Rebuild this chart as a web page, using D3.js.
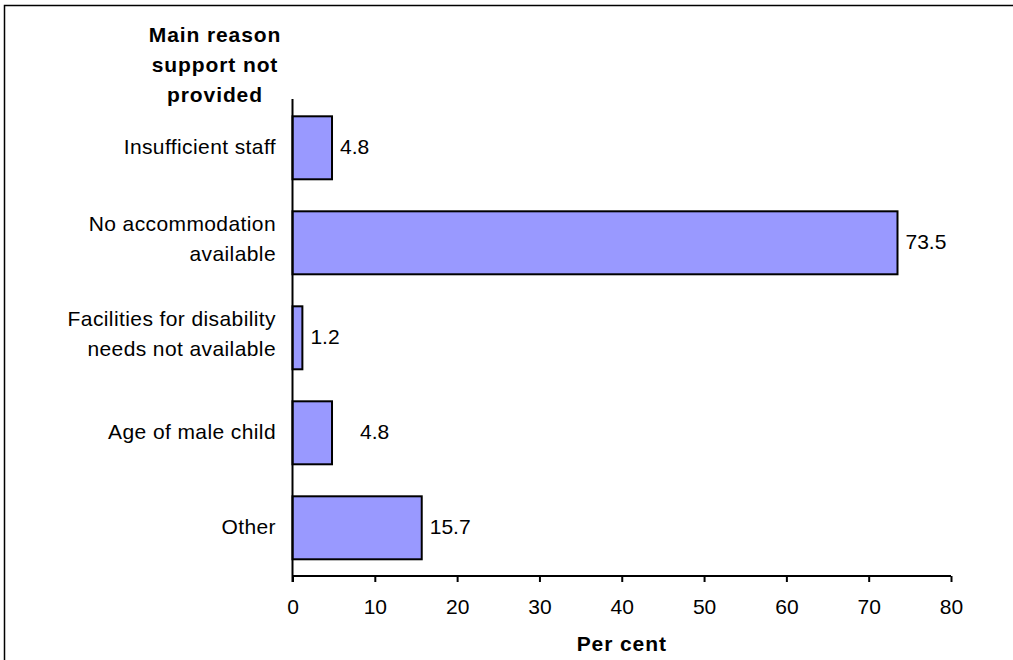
<!DOCTYPE html>
<html>
<head>
<meta charset="utf-8">
<script src="https://cdn.jsdelivr.net/npm/d3@7"></script>
<style>
  html, body { margin: 0; padding: 0; background: #ffffff; }
  svg { display: block; font-family: "Liberation Sans", Arial, sans-serif; }
</style>
</head>
<body>
<svg id="chart" width="1013" height="660"></svg>
<script>
const categories = [
  ["Insufficient staff"],
  ["No accommodation", "available"],
  ["Facilities for disability", "needs not available"],
  ["Age of male child"],
  ["Other"]
];
const values = [4.8, 73.5, 1.2, 4.8, 15.7];
const valueLabels = ["4.8", "73.5", "1.2", "4.8", "15.7"];
const xTicks = [0, 10, 20, 30, 40, 50, 60, 70, 80];
const yTitle = ["Main reason", "support not", "provided"];
const xTitle = "Per cent";

const svg = d3.select("#chart");

// outer frame
svg.append("rect")
  .attr("x", 4.5).attr("y", 5.5)
  .attr("width", 1100).attr("height", 700)
  .attr("fill", "none").attr("stroke", "#000").attr("stroke-width", 1.5);

const x = d3.scaleLinear().domain([0, 80]).range([292.5, 951]);
const y = d3.scaleBand().domain(d3.range(values.length)).range([100.3, 575.3]).paddingInner(0.337).paddingOuter(0.1685);

const fontSize = 21;

// bars
svg.append("g").selectAll("rect")
  .data(values)
  .join("rect")
  .attr("x", x(0))
  .attr("y", (d, i) => y(i))
  .attr("width", d => x(d) - x(0))
  .attr("height", y.bandwidth())
  .attr("fill", "#9999ff")
  .attr("stroke", "#000")
  .attr("stroke-width", 2);

// x axis
const xAxis = d3.axisBottom(x).tickValues(xTicks).tickSize(6).tickPadding(14).tickFormat(d3.format("d"));
const gx = svg.append("g").attr("transform", "translate(0,576)").call(xAxis);
gx.select(".domain").attr("stroke", "#000").attr("stroke-width", 2).attr("d", `M${x(0)},0H${x(80)}`);
gx.selectAll(".tick line").attr("stroke", "#000").attr("stroke-width", 2);
gx.selectAll(".tick text")
  .attr("font-size", fontSize)
  .attr("font-family", "Liberation Sans, Arial, sans-serif")
  .attr("fill", "#000")
  .attr("dy", null)
  .attr("y", 38);

// y axis line
svg.append("line")
  .attr("x1", x(0)).attr("x2", x(0))
  .attr("y1", 99).attr("y2", 582)
  .attr("stroke", "#000").attr("stroke-width", 2);

// category labels
const catG = svg.append("g");
categories.forEach((lines, i) => {
  const cy = y(i) + y.bandwidth() / 2;
  const lh = 30;
  const shift = lines.length > 1 ? -4 : -1;
  const t = catG.append("text")
    .attr("text-anchor", "end")
    .attr("font-size", fontSize)
    .attr("letter-spacing", 0.4)
    .attr("fill", "#000");
  lines.forEach((ln, j) => {
    t.append("tspan")
      .attr("x", 276)
      .attr("y", cy + (j - (lines.length - 1) / 2) * lh + shift)
      .attr("dy", "0.35em")
      .text(ln);
  });
});

// value labels
const labelNudge = [0, 0, 0, 20, 0];
svg.append("g").selectAll("text")
  .data(values)
  .join("text")
  .attr("x", (d, i) => x(d) + 8 + labelNudge[i])
  .attr("y", (d, i) => y(i) + y.bandwidth() / 2)
  .attr("dy", "0.3em")
  .attr("font-size", fontSize)
  .attr("fill", "#000")
  .text((d, i) => valueLabels[i]);

// y title
const yt = svg.append("text")
  .attr("text-anchor", "middle")
  .attr("font-size", fontSize)
  .attr("font-weight", "bold")
  .attr("letter-spacing", 0.9)
  .attr("fill", "#000");
yTitle.forEach((ln, j) => {
  yt.append("tspan").attr("x", 215).attr("y", 41.7 + j * 30).text(ln);
});

// x title
svg.append("text")
  .attr("x", (x(0) + x(80)) / 2)
  .attr("y", 651)
  .attr("text-anchor", "middle")
  .attr("font-size", fontSize)
  .attr("font-weight", "bold")
  .attr("letter-spacing", 0.9)
  .attr("fill", "#000")
  .text(xTitle);
</script>
</body>
</html>
